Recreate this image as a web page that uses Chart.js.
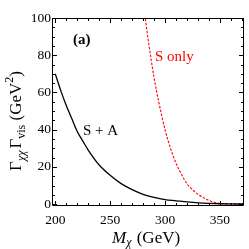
<!DOCTYPE html>
<html><head><meta charset="utf-8">
<script src="https://cdn.jsdelivr.net/npm/chart.js@4/dist/chart.umd.min.js"></script>
<style>html,body{margin:0;padding:0;background:#fff}canvas{display:block}</style>
</head><body>
<canvas id="c" width="249" height="249" style="width:249px;height:249px"></canvas>
<script>
// ---- data ----
const massSA  = [200,205,210,215,220,225,230,240,250,260,270,280,290,300,310,320,330,340,350,360,372];
const gammaSA = [70,61,53,46,39,34,29,21,15.5,11,7.8,5.3,3.6,2.4,1.8,1.2,0.7,0.4,0.2,0.1,0.05];
const massS   = [280,282,285,290,295,300,305,310,315,320,325,330,335,340,345,350,355,360,372];
const gammaS  = [108,100,87,68,53,40,30,22,16,11,7.8,5.3,3.5,2.0,1.0,0.4,0.15,0.05,0];
const xTicks  = [200,250,300,350];
const yTicks  = [0,20,40,60,80,100];
const labelSA = 'S + A';
const labelS  = 'S only';
const panel   = '(a)';

const SERIF = '"Liberation Serif","DejaVu Serif",serif';
const pts = (xs, ys) => xs.map((v,i)=>({x:v, y:ys[i]}));

const frame = {
  id: 'frame',
  afterDatasetsDraw(chart) {
    const {ctx, chartArea: a, scales: {x, y}} = chart;
    ctx.save();
    ctx.strokeStyle = '#000';
    ctx.lineWidth = 1;
    ctx.beginPath();
    ctx.rect(Math.round(a.left)+0.5, Math.round(a.top)+0.5, Math.round(a.right-a.left)-1, Math.round(a.bottom-a.top)-1);
    ctx.stroke();
    ctx.beginPath();
    for (let v = 200; v <= 370; v += 10) {
      const px = Math.round(x.getPixelForValue(v)) + 0.5;
      const len = xTicks.includes(v) ? 5 : 3;
      ctx.moveTo(px, a.bottom); ctx.lineTo(px, a.bottom - len);
      ctx.moveTo(px, a.top); ctx.lineTo(px, a.top + len);
    }
    for (let v = 0; v <= 100; v += 5) {
      const py = Math.round(y.getPixelForValue(v)) + 0.5;
      const len = yTicks.includes(v) ? 5 : 3;
      ctx.moveTo(a.left, py); ctx.lineTo(a.left + len, py);
      ctx.moveTo(a.right, py); ctx.lineTo(a.right - len, py);
    }
    ctx.stroke();

    // annotations
    ctx.textBaseline = 'middle';
    ctx.textAlign = 'left';
    ctx.fillStyle = '#000';
    ctx.font = 'bold 15px ' + SERIF;
    ctx.fillText(panel, 73, 40);
    ctx.font = '15px ' + SERIF;
    ctx.fillText(labelSA, 83, 131);
    ctx.fillStyle = '#ff0000';
    ctx.fillText(labelS, 155, 57);

    // x title
    ctx.fillStyle = '#000';
    ctx.textBaseline = 'alphabetic';
    let cx = 112, base = 243;
    ctx.font = 'italic 17px ' + SERIF;
    ctx.fillText('M', cx, base); cx += ctx.measureText('M').width;
    ctx.font = 'italic 12px ' + SERIF;
    ctx.fillText('χ', cx, base + 3); cx += ctx.measureText('χ').width + 1;
    ctx.font = '17px ' + SERIF;
    ctx.fillText(' (GeV)', cx, base);

    // y title (rotated)
    const parts = [
      ['Γ', '17px', 0], ['χχ', 'italic 12px', 4], [' ', '8px', 0], ['Γ', '17px', 0],
      ['vis', '12px', 4], [' (GeV', '17px', 0], ['2', '12px', -8], [')', '17px', 0]
    ];
    let total = 0;
    parts.forEach(p => { ctx.font = p[1] + ' ' + SERIF; total += ctx.measureText(p[0]).width; });
    ctx.translate(21, 121 + total / 2);
    ctx.rotate(-Math.PI / 2);
    let tx = 0;
    parts.forEach(p => {
      ctx.font = p[1] + ' ' + SERIF;
      ctx.fillText(p[0], tx, p[2]);
      tx += ctx.measureText(p[0]).width;
    });
    ctx.restore();
  }
};

new Chart(document.getElementById('c'), {
  type: 'line',
  data: {
    datasets: [
      { label: labelSA, data: pts(massSA, gammaSA), borderColor: '#000', borderWidth: 1.3,
        pointRadius: 0, cubicInterpolationMode: 'monotone', fill: false },
      { label: labelS, data: pts(massS, gammaS), borderColor: '#ff0000', borderWidth: 1.1,
        borderDash: [2.5, 1.5], pointRadius: 0, cubicInterpolationMode: 'monotone', fill: false }
    ]
  },
  options: {
    responsive: false,
    animation: false,
    devicePixelRatio: 1,
    layout: { padding: { left: 0, right: 5, top: 18, bottom: 0 } },
    plugins: { legend: { display: false }, tooltip: { enabled: false } },
    scales: {
      x: {
        type: 'linear', min: 197, max: 372,
        afterBuildTicks: s => { s.ticks = xTicks.map(v => ({ value: v })); },
        afterFit: s => { s.height = 43; },
        ticks: { color: '#000', font: { family: SERIF, size: 13.5 }, padding: 6, maxRotation: 0, autoSkip: false },
        grid: { display: false, drawTicks: false },
        border: { display: false }
      },
      y: {
        type: 'linear', min: -1, max: 100,
        afterBuildTicks: s => { s.ticks = yTicks.map(v => ({ value: v })); },
        afterFit: s => { s.width = 52; },
        ticks: { color: '#000', font: { family: SERIF, size: 13.5 }, padding: 1, autoSkip: false },
        grid: { display: false, drawTicks: false },
        border: { display: false }
      }
    }
  },
  plugins: [frame]
});
</script>
</body></html>
